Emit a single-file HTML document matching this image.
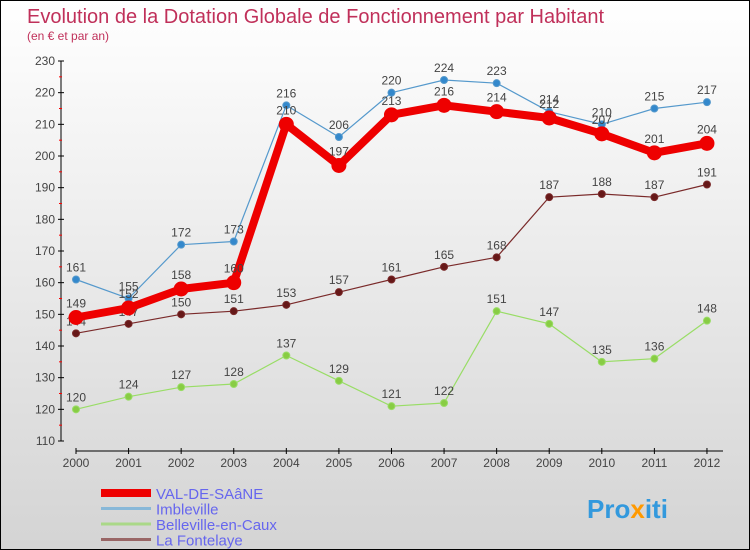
<!DOCTYPE html>
<html><head><meta charset="utf-8"><style>
body{margin:0;}
#c{width:750px;height:550px;position:relative;box-sizing:border-box;border:1px solid #000;background:linear-gradient(#ffffff,#d4d4d4);font-family:"Liberation Sans",sans-serif;overflow:hidden}
svg text{font-family:"Liberation Sans",sans-serif}
</style></head><body>
<div id="c">
<svg id="s" width="750" height="550">
<text x="26" y="22" font-size="20" fill="#c0305a">Evolution de la Dotation Globale de Fonctionnement par Habitant</text>
<text x="26" y="39" font-size="12" fill="#c0305a">(en € et par an)</text>
<text x="586" y="517" font-size="26" font-weight="bold" fill="#3399dd">Pro<tspan fill="#ff9900">x</tspan>iti</text>
</svg>
</div>
<script>
const years=[2000,2001,2002,2003,2004,2005,2006,2007,2008,2009,2010,2011,2012];
const yTicks=[110,120,130,140,150,160,170,180,190,200,210,220,230];
const valDeSaane=[149,152,158,160,210,197,213,216,214,212,207,201,204];
const imbleville=[161,155,172,173,216,206,220,224,223,214,210,215,217];
const belleville=[120,124,127,128,137,129,121,122,151,147,135,136,148];
const fontelaye=[144,147,150,151,153,157,161,165,168,187,188,187,191];
const names=["VAL-DE-SAâNE","Imbleville","Belleville-en-Caux","La Fontelaye"];
const NS="http://www.w3.org/2000/svg",s=document.getElementById('s');
const X=i=>75+i*52.58, Y=v=>440-(v-110)*380/120;
function el(t,a){const e=document.createElementNS(NS,t);for(const k in a)e.setAttribute(k,a[k]);s.appendChild(e);return e;}
let e=el('line',{x1:60,y1:60,x2:60,y2:440,stroke:'#000'});

e=el('line',{x1:75,y1:450,x2:722,y2:450,stroke:'#000'});

yTicks.forEach((v,i)=>{
 el('line',{x1:57,x2:63,y1:Y(v),y2:Y(v),stroke:'#000'});
 if(i<yTicks.length-1) el('line',{x1:58,x2:61,y1:Y(v+5),y2:Y(v+5),stroke:'#f00'});
 const t=el('text',{x:54,y:Y(v)+4,'font-size':12,fill:'#444','text-anchor':'end'});t.textContent=v;
 
});
years.forEach((y,i)=>{
 el('line',{x1:X(i),x2:X(i),y1:447,y2:453,stroke:'#000'});
 const t=el('text',{x:X(i),y:466,'font-size':12,fill:'#444','text-anchor':'middle'});t.textContent=y;
 
});
function series(d,col,w,r,dot,name,lblDy){
 const p=el('polyline',{points:d.map((v,i)=>X(i)+','+Y(v)).join(' '),fill:'none',stroke:col,'stroke-width':w,'stroke-linejoin':'round'});
 
 d.forEach((v,i)=>{
  const c=el('circle',{cx:X(i),cy:Y(v),r:r,fill:dot,stroke:col,'stroke-width':1});
  
  const t=el('text',{x:X(i),y:Y(v)+lblDy,'font-size':12,fill:'#444','text-anchor':'middle'});t.textContent=v;
  
 });
}
series(belleville,'#99dd66',1.2,3.5,'#88cc44','belleville',-8);
series(fontelaye,'#7a2a2a',1.2,3.5,'#661818','fontelaye',-8);
series(imbleville,'#5599cc',1.2,3.5,'#3388cc','imbleville',-8);
series(valDeSaane,'#ee0000',8,7,'#ee0000','val-de-saane',-10);
const lc=['#ee0000','#88b8d8','#aad888','#996666'],lw=[8,3,3,3];
names.forEach((n,i)=>{
 const y=492+i*15.5;
 const l=el('line',{x1:100,x2:150,y1:y,y2:y,stroke:lc[i],'stroke-width':lw[i]});
 
 const t=el('text',{x:155,y:y+6,'font-size':15,fill:'#6666ee'});t.textContent=n;
 
});
</script>
</body></html>
